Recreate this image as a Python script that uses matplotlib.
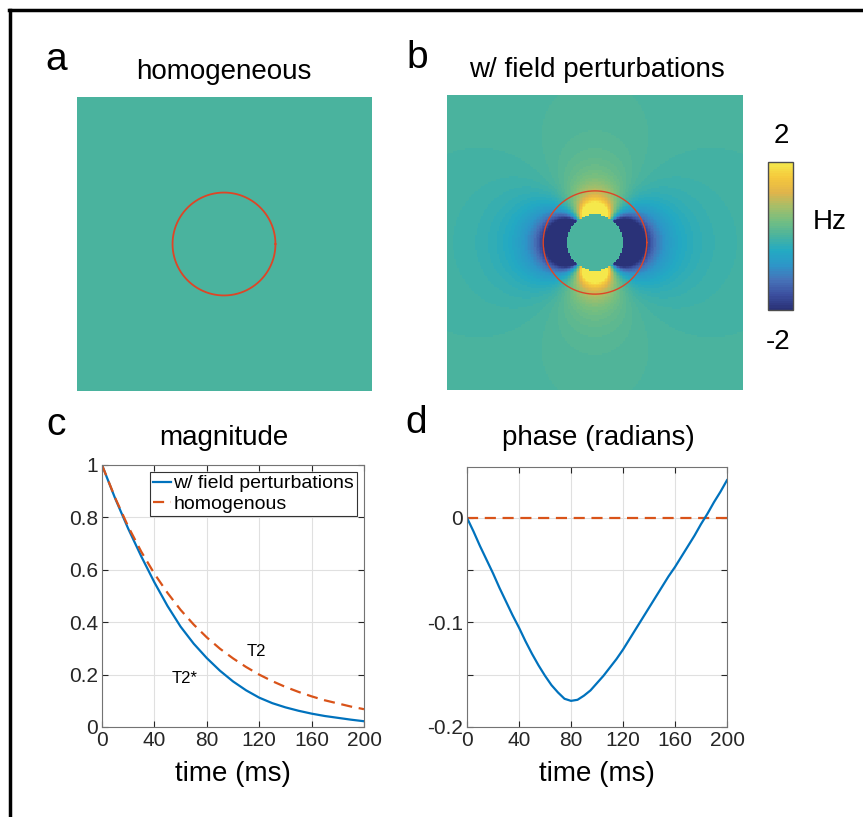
import numpy as np
import matplotlib
matplotlib.use("Agg")
import matplotlib.pyplot as plt
from matplotlib.colors import LinearSegmentedColormap
from matplotlib.lines import Line2D

# 1. Data
TIME_MS = [0, 10, 20, 30, 40, 50, 60, 70, 80, 90, 100,
           110, 120, 130, 140, 150, 160, 170, 180, 190, 200]
MAG_PERTURBED = [1.000, 0.873, 0.757, 0.651, 0.552, 0.462, 0.383, 0.318, 0.263, 0.215, 0.174,
                 0.140, 0.112, 0.091, 0.075, 0.062, 0.051, 0.042, 0.035, 0.028, 0.022]
MAG_HOMOG = [1.000, 0.875, 0.765, 0.669, 0.585, 0.512, 0.447, 0.391, 0.342, 0.299, 0.262,
             0.229, 0.200, 0.175, 0.153, 0.134, 0.117, 0.102, 0.090, 0.078, 0.068]

PHASE_TIME_MS = [0, 5, 10, 15, 20, 25, 30, 35, 40, 45, 50, 55, 60, 65, 70, 75, 80, 85, 90, 95, 100,
                 105, 110, 115, 120, 125, 130, 135, 140, 145, 150, 155, 160, 165, 170, 175, 180,
                 185, 190, 195, 200]
PHASE_PERTURBED = [0.000, -0.013, -0.027, -0.040, -0.053, -0.067, -0.080, -0.093, -0.105, -0.118,
                   -0.130, -0.141, -0.151, -0.160, -0.167, -0.173, -0.175, -0.174, -0.170, -0.165,
                   -0.158, -0.151, -0.143, -0.135, -0.126, -0.116, -0.106, -0.096, -0.086, -0.076,
                   -0.066, -0.056, -0.047, -0.037, -0.027, -0.017, -0.006, 0.004, 0.015, 0.025,
                   0.036]
PHASE_HOMOG = [0.0] * len(PHASE_TIME_MS)

SERIES_LABELS = ["w/ field perturbations", "homogenous"]
X_TICKS = [0, 40, 80, 120, 160, 200]
MAG_YTICKS = [0, 0.2, 0.4, 0.6, 0.8, 1]
MAG_YLABELS = ["0", "0.2", "0.4", "0.6", "0.8", "1"]
PHASE_YTICKS = [-0.2, -0.15, -0.1, -0.05, 0]
PHASE_YLABELS = ["-0.2", "", "-0.1", "", "0"]

# field map parameters (dipole around a sphere, in units of half image width)
FIELD_AMP = 6.0      # Hz at the sphere surface (scaled)
INNER_R = 0.19       # sphere radius
ROI_R = 0.35         # red circle
CLIM = (-2, 2)
GRID_N = 200

# parula-like map, as it looks in the (washed) reference
CMAP_COLORS = [(42, 50, 120), (60, 80, 160), (70, 115, 185), (45, 150, 200), (35, 170, 195),
               (74, 179, 158), (115, 190, 130), (165, 190, 105), (225, 180, 75),
               (245, 200, 60), (245, 232, 75)]
cmap = LinearSegmentedColormap.from_list(
    "parula_ish", [tuple(c / 255 for c in rgb) for rgb in CMAP_COLORS], N=65)

BLUE = (0.0, 0.447, 0.741)
ORANGE = (0.85, 0.325, 0.098)
RED_CIRCLE = (0.87, 0.27, 0.15)

plt.rcParams["font.family"] = ["Liberation Sans", "DejaVu Sans"]

W, H = 863, 817
fig = plt.figure(figsize=(W / 100, H / 100), dpi=100)


def box(x0, y0, x1, y1):
    # pixel box (top-left origin) -> figure fraction rect
    return [x0 / W, 1 - y1 / H, (x1 - x0) / W, (y1 - y0) / H]


# 2. Field maps
xs = np.linspace(-1, 1, GRID_N)
X, Y = np.meshgrid(xs, xs)
r = np.hypot(X, Y)
cos2 = (X / np.maximum(r, 1e-9)) ** 2
field = -FIELD_AMP * (INNER_R / np.maximum(r, 1e-9)) ** 3 * (3 * cos2 - 1)
field[r < INNER_R] = 0.0
homog = np.zeros_like(field)

theta = np.linspace(0, 2 * np.pi, 300)

ax_a = fig.add_axes(box(77, 97, 371, 391))
ax_a.imshow(homog, cmap=cmap, vmin=CLIM[0], vmax=CLIM[1], extent=[-1, 1, -1, 1],
            aspect="auto", interpolation="nearest")
ax_a.plot(ROI_R * np.cos(theta), ROI_R * np.sin(theta), color=RED_CIRCLE, lw=1.3)
ax_a.set_xlim(-1, 1)
ax_a.set_ylim(-1, 1)
ax_a.axis("off")

ax_b = fig.add_axes(box(447, 95, 743, 390))
im = ax_b.imshow(field, cmap=cmap, vmin=CLIM[0], vmax=CLIM[1], extent=[-1, 1, -1, 1],
                 aspect="auto", interpolation="nearest", origin="lower")
ax_b.plot(ROI_R * np.cos(theta), ROI_R * np.sin(theta), color=RED_CIRCLE, lw=1.0)
ax_b.set_xlim(-1, 1)
ax_b.set_ylim(-1, 1)
ax_b.axis("off")

cax = fig.add_axes(box(768, 162, 793, 310))
cb = fig.colorbar(im, cax=cax)
cb.set_ticks([])
cb.outline.set_edgecolor("0.3")
cb.outline.set_linewidth(1.0)
fig.text(781 / W, 1 - 136 / H, "2", fontsize=20, ha="center", va="center")
fig.text(778 / W, 1 - 342 / H, "-2", fontsize=20, ha="center", va="center")
fig.text(830 / W, 1 - 222 / H, "Hz", fontsize=20, ha="center", va="center")


# 3. Signal curves
def style_axes(ax):
    ax.set_xlim(0, 200)
    ax.set_xticks(X_TICKS)
    ax.grid(True, color="0.88", lw=0.8)
    ax.set_axisbelow(True)
    ax.tick_params(direction="in", length=4, top=True, right=True,
                   labelsize=15, colors="0.15", pad=3)
    for s in ax.spines.values():
        s.set_color("0.45")
        s.set_linewidth(0.8)


ax_c = fig.add_axes(box(102, 465, 364, 727))
ax_c.plot(TIME_MS, MAG_PERTURBED, color=BLUE, lw=1.6, label=SERIES_LABELS[0])
ax_c.plot(TIME_MS, MAG_HOMOG, color=ORANGE, lw=1.6, ls=(0, (5, 3)), label=SERIES_LABELS[1])
style_axes(ax_c)
ax_c.set_ylim(0, 1)
ax_c.set_yticks(MAG_YTICKS)
ax_c.set_yticklabels(MAG_YLABELS)
ax_c.set_xlabel("time (ms)", fontsize=20, labelpad=8)
ax_c.text(118, 0.29, "T2", fontsize=12, ha="center", va="center")
ax_c.text(63, 0.185, "T2*", fontsize=12, ha="center", va="center")
leg = ax_c.legend(loc="upper right", fontsize=14, handlelength=0.9, handletextpad=0.15,
                  borderpad=0.15, labelspacing=0.15, borderaxespad=0.35, fancybox=False,
                  framealpha=1)
leg.get_frame().set_edgecolor("0.2")
leg.get_frame().set_linewidth(0.8)

ax_d = fig.add_axes(box(467, 467, 727, 727))
ax_d.plot(PHASE_TIME_MS, PHASE_HOMOG, color=ORANGE, lw=1.6, ls=(0, (5, 3)))
ax_d.plot(PHASE_TIME_MS, PHASE_PERTURBED, color=BLUE, lw=1.6)
style_axes(ax_d)
ax_d.set_ylim(-0.2, 0.0486)
ax_d.set_yticks(PHASE_YTICKS)
ax_d.set_yticklabels(PHASE_YLABELS)
ax_d.set_xlabel("time (ms)", fontsize=20, labelpad=8)

# 4. Titles, panel letters, frame
fig.text(224 / W, 1 - 72 / H, "homogeneous", fontsize=20, ha="center", va="center")
fig.text(597 / W, 1 - 70 / H, "w/ field perturbations", fontsize=20, ha="center", va="center")
fig.text(224 / W, 1 - 438 / H, "magnitude", fontsize=20, ha="center", va="center")
fig.text(598 / W, 1 - 438 / H, "phase (radians)", fontsize=20, ha="center", va="center")
for letter, (px, py) in zip("abcd", [(56, 60), (417, 58), (56, 425), (416, 423)]):
    fig.text(px / W, 1 - py / H, letter, fontsize=28, ha="center", va="center")

fig.add_artist(Line2D([9 / W, 1], [1 - 10 / H, 1 - 10 / H], transform=fig.transFigure,
                      color="k", lw=2.5))
fig.add_artist(Line2D([10 / W, 10 / W], [0, 1 - 10 / H], transform=fig.transFigure,
                      color="k", lw=2.5))

fig.savefig("out.png", dpi=100)
